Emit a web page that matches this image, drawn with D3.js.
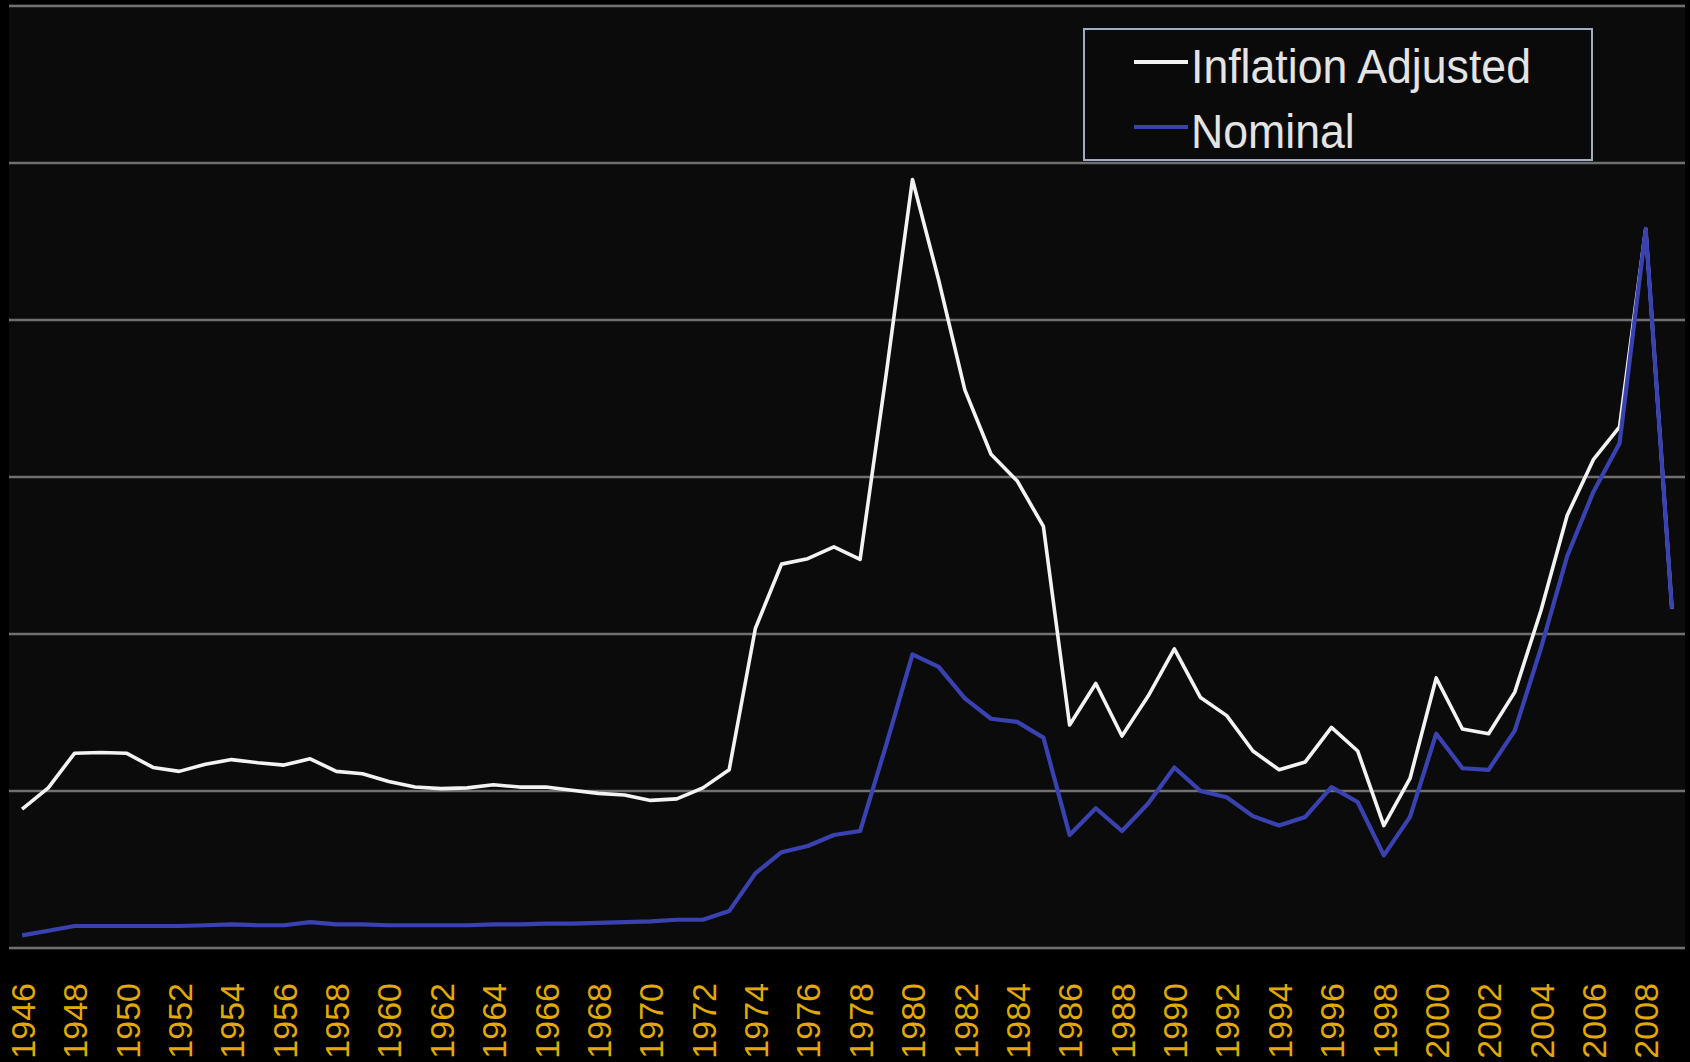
<!DOCTYPE html>
<html>
<head>
<meta charset="utf-8">
<script src="https://cdn.jsdelivr.net/npm/d3@7"></script>
<style>
  html, body { margin: 0; padding: 0; background: #000; }
  svg { display: block; }
</style>
</head>
<body>
<div id="chart"></div>
<script>
"use strict";
var years = d3.range(1946, 2010);
var inflationAdjusted = [
    17.7, 20.4, 24.8, 24.9, 24.8, 23.0, 22.5, 23.4, 24.0, 23.6,
    23.3, 24.1, 22.5, 22.2, 21.2, 20.5, 20.3, 20.4, 20.8, 20.5,
    20.5, 20.1, 19.7, 19.5, 18.8, 19.0, 20.4, 22.7, 40.7, 48.9,
    49.6, 51.1, 49.5, 73.2, 97.9, 85.1, 71.1, 62.9, 59.5, 53.7,
    28.4, 33.7, 27.0, 32.1, 38.1, 31.9, 29.6, 25.1, 22.7, 23.7,
    28.1, 25.1, 15.6, 21.6, 34.4, 27.9, 27.3, 32.6, 43.0, 55.1,
    62.2, 66.4, 91.6, 43.2
];
var nominal = [
    1.6, 2.2, 2.8, 2.8, 2.8, 2.8, 2.8, 2.9, 3.0, 2.9,
    2.9, 3.3, 3.0, 3.0, 2.9, 2.9, 2.9, 2.9, 3.0, 3.0,
    3.1, 3.1, 3.2, 3.3, 3.4, 3.6, 3.6, 4.7, 9.5, 12.2,
    13.0, 14.4, 14.9, 25.9, 37.4, 35.8, 31.8, 29.2, 28.8, 26.8,
    14.4, 17.8, 14.9, 18.4, 23.0, 20.0, 19.2, 16.8, 15.6, 16.7,
    20.5, 18.6, 11.8, 16.7, 27.3, 22.9, 22.7, 27.7, 38.2, 49.9,
    58.1, 64.3, 91.6, 43.2
];
var yTicks = [0, 20, 40, 60, 80, 100, 120];
var yearLabels = years.filter(function (y) { return y % 2 === 0; });
var seriesNames = ["Inflation Adjusted", "Nominal"];

var width = 1690, height = 1062;
var plot = { left: 9, right: 1685, top: 5, bottom: 948 };
var colors = { white: "#f3f3f3", blue: "#3a42b2", grid: "#707070", label: "#e2aa00" };

var svg = d3.select("#chart").append("svg")
    .attr("width", width)
    .attr("height", height);

svg.append("rect")
    .attr("x", plot.left)
    .attr("y", plot.top - 1)
    .attr("width", plot.right - plot.left)
    .attr("height", plot.bottom - plot.top + 3)
    .style("fill", "#0b0b0b");

var x = d3.scalePoint()
    .domain(years)
    .range([plot.left, plot.right])
    .padding(0.5);
var y = d3.scaleLinear()
    .domain([0, 120])
    .range([plot.bottom, plot.top + 1]);

// horizontal grid
svg.append("g")
    .attr("class", "grid")
    .selectAll("line")
    .data(yTicks)
    .enter().append("line")
    .attr("x1", plot.left)
    .attr("x2", plot.right)
    .attr("y1", function (d) { return y(d); })
    .attr("y2", function (d) { return y(d); })
    .style("stroke", colors.grid)
    .style("stroke-width", 2.5);

// year labels
var xAxis = svg.append("g")
    .attr("transform", "translate(0," + plot.bottom + ")")
    .call(d3.axisBottom(x).tickValues(yearLabels).tickSize(0));
xAxis.select(".domain").remove();
xAxis.selectAll("text")
    .attr("transform", "rotate(-90)")
    .attr("x", -35)
    .attr("y", 0)
    .attr("dy", "0.36em")
    .style("text-anchor", "end")
    .style("font-family", "'Liberation Sans', Arial, sans-serif")
    .style("font-size", "34px")
    .style("fill", colors.label);

var line = function (values) {
    return d3.line()
        .x(function (d, i) { return x(years[i]); })
        .y(function (d) { return y(d); })(values);
};

svg.append("path")
    .attr("d", line(inflationAdjusted))
    .style("fill", "none")
    .style("stroke", colors.white)
    .style("stroke-width", 3.6)
    .style("stroke-linejoin", "round");

svg.append("path")
    .attr("d", line(nominal))
    .style("fill", "none")
    .style("stroke", colors.blue)
    .style("stroke-width", 4.2)
    .style("stroke-linejoin", "round");

// legend
var legend = svg.append("g").attr("class", "legend");
legend.append("rect")
    .attr("x", 1084)
    .attr("y", 29)
    .attr("width", 508)
    .attr("height", 131)
    .style("fill", "#0a0a0a")
    .style("stroke", "#a3adc2")
    .style("stroke-width", 2);
var items = legend.selectAll("g.item")
    .data(seriesNames)
    .enter().append("g")
    .attr("class", "item")
    .attr("transform", function (d, i) { return "translate(1134," + (62 + i * 65) + ")"; });
items.append("line")
    .attr("x1", 0)
    .attr("x2", 54)
    .style("stroke", function (d, i) { return i === 0 ? colors.white : colors.blue; })
    .style("stroke-width", 4);
items.append("text")
    .attr("transform", "translate(57,21) scale(0.93,1)")
    .text(function (d) { return d; })
    .style("font-family", "'Liberation Sans', Arial, sans-serif")
    .style("font-size", "48px")
    .style("fill", "#e4e4e4");
</script>
</body>
</html>
